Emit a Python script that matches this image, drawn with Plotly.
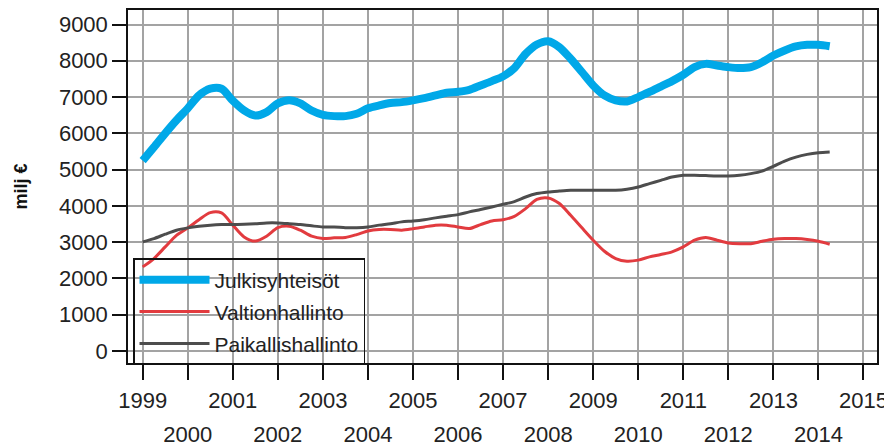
import plotly.graph_objects as go

# Quarterly periods 1999Q1 .. 2014Q2
years = list(range(1999, 2015))
quarters = [f"{y}Q{q}" for y in years for q in range(1, 5)][:62]

julkisyhteisot = [
    5250, 5620, 6000, 6360, 6690, 7045, 7230, 7230,
    6900, 6630, 6490, 6585, 6825, 6910, 6825, 6630,
    6510, 6475, 6475, 6540, 6690, 6770, 6835, 6860,
    6910, 6970, 7045, 7120, 7145, 7200, 7320, 7440,
    7570, 7800, 8190, 8450, 8540, 8375, 8055, 7690,
    7320, 7045, 6910, 6880, 7000, 7140, 7290, 7440,
    7615, 7825, 7915, 7870, 7825, 7800, 7825, 7960,
    8145, 8285, 8395, 8440, 8440, 8400,
]
valtionhallinto = [
    2320, 2550, 2870, 3190, 3390, 3620, 3815, 3805,
    3470, 3145, 3030, 3165, 3400, 3440, 3330, 3165,
    3100, 3120, 3130, 3210, 3310, 3350, 3350, 3330,
    3370, 3420, 3470, 3470, 3420, 3375, 3485, 3585,
    3620, 3710, 3925, 4180, 4220, 4065, 3740, 3395,
    3055, 2750, 2550, 2475, 2505, 2595, 2660, 2735,
    2870, 3055, 3130, 3055, 2980, 2960, 2960, 3025,
    3080, 3100, 3100, 3075, 3025, 2945,
]
paikallishallinto = [
    3010, 3100, 3220, 3330, 3395, 3440, 3470, 3485,
    3485, 3495, 3510, 3530, 3530, 3510, 3485, 3450,
    3420, 3420, 3400, 3400, 3420, 3470, 3510, 3560,
    3585, 3620, 3670, 3715, 3760, 3835, 3900, 3970,
    4045, 4120, 4245, 4340, 4385, 4410, 4430, 4430,
    4430, 4430, 4430, 4460, 4520, 4615, 4705, 4795,
    4845, 4845, 4835, 4825, 4825, 4845, 4890, 4960,
    5090, 5235, 5345, 5420, 5465, 5485,
]

series_names = ["Julkisyhteisöt", "Valtionhallinto", "Paikallishallinto"]
series_values = [julkisyhteisot, valtionhallinto, paikallishallinto]
series_colors = ["#00A8E8", "#E23B3F", "#4D4D4D"]
series_widths = [8, 3, 3]

tick_years = list(range(1999, 2016))
y_ticks = list(range(0, 10000, 1000))
y_title = "milj €"

x_pos = [int(p[:4]) + (int(p[5]) - 1) / 4 for p in quarters]

FONT = "Liberation Sans, Arial, sans-serif"

fig = go.Figure()
for name, vals, col, w in zip(series_names, series_values, series_colors, series_widths):
    fig.add_trace(go.Scatter(
        x=x_pos, y=vals, name=name, mode="lines", legendgroup=name,
        line=dict(color=col, width=w, shape="spline", smoothing=0.8),
    ))

# dummy trace to carry the second row of x tick labels
fig.add_trace(go.Scatter(x=[tick_years[0]], y=[None], xaxis="x2", showlegend=False,
                         hoverinfo="skip"))

odd_years = [y for y in tick_years if y % 2 == 1]
even_years = [y for y in tick_years if y % 2 == 0]

# the page body has an 8px default margin, so the figure is 8px smaller
fig.update_layout(
    width=884, height=439,
    margin=dict(l=120, r=15, t=2, b=84),
    paper_bgcolor="white", plot_bgcolor="white",
    font=dict(family=FONT, color="#222222"),
    showlegend=True,
    legend=dict(
        x=0.0067, y=0.297, xanchor="left", yanchor="top",
        bgcolor="rgba(0,0,0,0)", bordercolor="#111111", borderwidth=1.5,
        font=dict(size=21, family=FONT, color="#222222"),
        itemwidth=70, tracegroupgap=1.5,
    ),
    xaxis=dict(
        range=[1998.674, 2015.3], automargin=False,
        tickmode="array", tickvals=tick_years,
        ticktext=[str(y) if y % 2 == 1 else "" for y in tick_years],
        ticks="outside", ticklen=15, tickwidth=1.5, tickcolor="#111111",
        showgrid=True, gridcolor="#A3A3A3", gridwidth=1.5,
        showline=True, linecolor="#111111", linewidth=1.5, mirror=True,
        zeroline=False, ticklabelstandoff=2,
        tickfont=dict(size=22, family=FONT, color="#222222"),
    ),
    xaxis2=dict(
        overlaying="x", matches="x", side="bottom", anchor="y", automargin=False,
        tickmode="array", tickvals=even_years,
        ticktext=[str(y) for y in even_years],
        ticks="", showgrid=False, showline=False, zeroline=False,
        ticklabelstandoff=56,
        tickfont=dict(size=22, family=FONT, color="#222222"),
    ),
    yaxis=dict(
        range=[-330, 9400], automargin=False,
        tickmode="array", tickvals=y_ticks,
        ticks="outside", ticklen=14, tickwidth=1.5, tickcolor="#111111",
        showgrid=True, gridcolor="#A3A3A3", gridwidth=1.5,
        showline=True, linecolor="#111111", linewidth=1.5, mirror=True,
        zeroline=False,
        tickfont=dict(size=22, family=FONT, color="#222222"),
        title=dict(text=y_title, font=dict(size=18, family=FONT, color="#111111", weight="bold"),
                   standoff=27),
    ),
)

fig.write_html("out.html")
